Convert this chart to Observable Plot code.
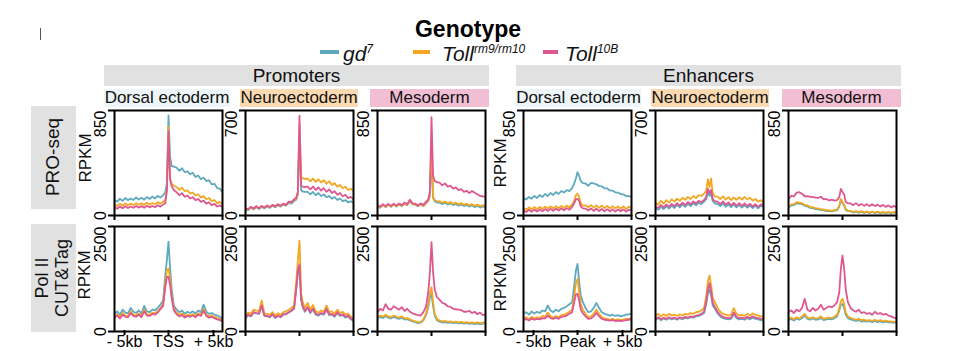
<!DOCTYPE html>
<html><head><meta charset="utf-8">
<script src="https://cdn.jsdelivr.net/npm/d3@7"></script>
<script src="https://cdn.jsdelivr.net/npm/@observablehq/plot@0.6"></script>
<style>
body{margin:0;background:#fff;font-family:"Liberation Sans",Arial,sans-serif;color:#111;}
#root{position:relative;width:962px;height:351px;overflow:hidden;background:#fff;}
.box{position:absolute;display:flex;align-items:center;justify-content:center;white-space:nowrap;}
.rot{position:absolute;transform:translate(-50%,-50%) rotate(-90deg);white-space:nowrap;text-align:center;line-height:1.1;}
.abs{position:absolute;white-space:nowrap;}
svg{position:absolute;}
</style></head>
<body><div id="root"></div>
<script>
// ---------- data ----------
const xs = [-5,-4.75,-4.5,-4.25,-4,-3.75,-3.5,-3.25,-3,-2.75,-2.5,-2.25,-2,-1.75,-1.5,-1.25,-1,-0.75,
  -0.5,-0.3,-0.15,0,0.15,0.3,0.5,
  0.75,1,1.25,1.5,1.75,2,2.25,2.5,2.75,3,3.25,3.5,3.75,4,4.25,4.5,4.75,5];
const genotypes = ["gd7","Toll rm9/rm10","Toll10B"];
const genotypeColors = ["#5ea9bd","#f2a722","#de5790"];
const rowLabels = ["PRO-seq","Pol II CUT&Tag"];
const groups = ["Promoters","Enhancers"];
const tissues = ["Dorsal ectoderm","Neuroectoderm","Mesoderm"];
const xTickLabelsPromoters = ["- 5kb","TSS","+ 5kb"];
const xTickLabelsEnhancers = ["- 5kb","Peak","+ 5kb"];
const yMaxPro = [850,700,850,850,700,850];
const yMaxCut = [2500,2500,2500,2500,2500,2500];

// PRO-seq, promoters
const pro_prom_DE_gd7 = [125,112,136,118,141,124,138,126,146,130,143,128,149,134,153,138,158,145, 165,185,260,810,470,400,395, 388,362,383,352,358,334,346,312,324,294,307,279,286,252,257,222,218,188];
const pro_prom_DE_rm  = [90,78,95,81,98,83,96,85,100,87,99,86,103,89,101,91,108,96, 112,125,210,720,300,255,240, 231,208,225,198,203,180,186,162,172,146,157,132,142,117,124,100,108,94];
const pro_prom_DE_10b = [68,55,73,59,75,61,73,63,77,64,76,63,79,66,77,67,83,72, 88,100,200,680,290,235,205, 188,164,181,152,161,138,148,124,134,110,121,96,107,84,94,73,82,68];
const pro_prom_NE_gd7 = [42,36,52,41,56,43,58,47,61,51,65,55,69,59,73,65,84,80, 96,105,140,560,170,160,158, 158,141,157,135,150,130,140,122,131,112,123,104,113,96,103,88,95,84];
const pro_prom_NE_rm  = [46,40,56,45,60,47,62,51,65,55,69,59,73,63,77,69,90,88, 104,112,150,600,255,248,245, 246,228,247,224,242,220,236,212,228,204,216,192,204,182,192,170,178,163];
const pro_prom_NE_10b = [48,42,58,47,62,49,64,53,67,57,71,61,75,65,79,71,92,90, 108,118,160,665,200,192,190, 192,174,193,170,188,166,182,158,174,150,162,138,150,128,138,116,124,108];
const pro_prom_ME_gd7 = [74,64,84,68,86,70,88,72,90,76,96,84,118,90,88,74,90,76, 100,115,160,500,140,115,105, 106,92,104,88,99,84,94,80,90,76,86,72,82,68,78,64,74,66];
const pro_prom_ME_rm  = [76,66,86,70,88,72,90,74,92,78,98,86,121,92,90,76,92,78, 104,120,170,550,150,125,115, 116,102,114,98,109,94,104,90,100,86,96,82,92,78,88,74,84,76];
const pro_prom_ME_10b = [82,72,92,76,94,78,96,80,98,84,104,92,128,98,96,82,98,86, 112,130,190,797,320,280,270, 266,244,260,234,242,218,228,206,214,192,200,181,199,184,172,158,156,148];
// PRO-seq, enhancers
const pro_enh_DE_gd7 = [138,130,150,136,158,142,166,150,174,158,182,166,190,174,198,186,206,198, 222,260,300,351,320,280,262, 259,241,264,260,252,238,236,220,219,203,201,188,186,173,171,158,156,150];
const pro_enh_DE_rm  = [58,48,66,50,68,52,70,54,72,56,74,58,76,60,78,62,80,66, 90,120,165,176,150,100,80, 82,66,84,64,82,62,80,60,78,58,76,58,74,56,74,54,72,60];
const pro_enh_DE_10b = [38,28,46,30,48,32,50,34,52,36,54,38,56,40,58,42,60,46, 70,100,130,135,120,75,58, 56,40,58,38,56,36,54,34,52,34,52,32,50,34,50,32,48,40];
const pro_enh_NE_gd7 = [48,38,58,42,62,46,66,50,70,54,74,58,78,62,82,68,86,76, 92,110,160,130,150,95,80, 78,62,80,58,74,56,72,54,70,52,68,52,66,50,66,48,64,58];
const pro_enh_NE_rm  = [84,72,98,80,102,86,108,92,112,98,118,104,124,110,130,116,136,130, 148,165,240,190,245,150,128, 126,110,128,106,122,102,120,104,122,106,124,108,118,100,110,92,102,89];
const pro_enh_NE_10b = [60,50,70,54,74,58,78,62,82,66,86,70,90,74,94,80,98,90, 104,125,178,150,170,110,95, 92,76,94,72,88,68,84,66,82,64,80,62,78,60,76,58,74,67];
const pro_enh_ME_gd7 = [65,80,84,99,97,92,78,74,62,60,51,50,44,44,36,38,33,39, 42,72,125,100,80,45,35, 34,24,32,22,31,20,29,19,28,18,27,17,26,18,26,17,25,23];
const pro_enh_ME_rm  = [73,88,92,108,104,100,86,82,70,68,58,57,50,50,42,44,38,44, 48,80,135,110,90,50,40, 38,28,36,26,35,24,33,23,32,22,31,21,30,22,30,21,29,27];
const pro_enh_ME_10b = [135,158,154,186,189,176,156,156,150,150,144,142,152,130,134,122,128,121, 125,150,216,190,170,110,100, 98,84,100,80,94,78,92,76,90,76,88,72,86,70,82,66,78,67];
// Pol II CUT&Tag, promoters
const cut_prom_DE_gd7 = [421,480,400,520,450,430,560,470,440,500,430,610,480,460,520,500,560,640, 738,1333,1700,2142,1500,1000,619, 520,460,500,420,470,440,480,430,500,460,640,470,420,440,405,380,350,302];
const cut_prom_DE_rm  = [360,410,340,440,380,370,480,400,380,430,370,520,410,400,450,430,480,560, 650,1150,1450,1500,1250,850,540, 450,400,430,360,400,380,410,370,430,400,540,400,360,380,350,320,300,260];
const cut_prom_DE_10b = [330,380,310,400,350,340,440,370,350,400,340,480,380,370,420,400,450,530, 610,1050,1300,1300,1100,780,500, 410,360,390,330,370,350,380,340,400,370,500,370,330,350,320,290,270,240];
const cut_prom_NE_gd7 = [320,390,360,450,430,420,600,370,360,340,400,320,370,340,400,410,450,490, 540,1000,1400,1500,750,580,470, 560,440,530,400,380,420,400,520,390,400,350,440,370,390,330,360,290,250];
const cut_prom_NE_rm  = [381,450,420,520,500,480,740,430,420,400,460,380,430,400,460,480,520,560, 620,1200,1700,2166,900,698,560, 680,520,630,480,450,500,470,620,460,480,420,520,440,470,400,430,350,302];
const cut_prom_NE_10b = [330,400,370,460,440,430,620,380,370,350,410,330,380,350,410,420,460,500, 560,1050,1450,1600,780,600,490, 580,460,550,420,400,440,420,540,410,420,370,460,390,410,350,380,310,270];
const cut_prom_ME_gd7 = [310,350,320,370,330,310,350,320,300,330,285,295,265,240,220,200,210,265, 390,580,800,900,600,370,270, 235,215,225,205,215,198,210,192,205,188,200,182,195,178,190,178,186,200];
const cut_prom_ME_rm  = [341,380,350,400,360,340,380,350,330,360,310,320,290,260,240,222,230,290, 430,650,900,1055,700,420,300, 260,240,250,230,240,220,235,215,230,210,225,205,220,200,215,200,210,222];
const cut_prom_ME_10b = [460,540,500,650,540,520,600,560,520,580,490,540,470,430,410,390,380,460, 600,935,1400,2126,1400,1000,820, 760,680,660,600,590,540,530,520,510,470,470,490,440,470,410,450,390,410];
// Pol II CUT&Tag, enhancers
const cut_enh_DE_gd7 = [421,460,400,480,430,470,440,500,480,619,500,460,520,480,540,560,600,650, 698,1100,1450,1611,1200,857,700, 560,460,480,560,680,560,460,420,400,380,400,370,390,360,380,400,410,420];
const cut_enh_DE_rm  = [300,340,290,350,310,340,320,370,350,450,360,330,370,340,390,400,430,470, 520,850,1150,1250,950,650,520, 420,340,360,420,520,420,340,310,300,280,300,270,290,270,280,300,300,310];
const cut_enh_DE_10b = [270,300,260,310,280,300,290,320,310,380,320,300,330,300,350,360,380,420, 460,700,880,900,750,520,430, 360,300,310,360,440,360,300,280,270,260,270,250,260,250,260,270,280,290];
const cut_enh_NE_gd7 = [280,320,270,310,280,320,290,310,280,320,290,330,310,340,330,360,370,400, 440,660,900,1000,850,620,540, 430,360,320,300,290,300,410,320,290,300,280,320,290,330,300,290,270,260];
const cut_enh_NE_rm  = [381,420,360,410,370,420,380,400,370,410,380,420,400,440,420,460,470,500, 560,850,1200,1333,1100,800,698, 560,470,420,400,380,400,555,420,380,400,370,420,380,430,400,380,360,340];
const cut_enh_NE_10b = [300,340,290,330,300,340,310,330,300,340,310,350,330,360,350,380,390,420, 470,720,1000,1150,950,680,580, 470,390,350,330,320,330,450,350,320,330,310,350,320,360,330,320,300,290];
const cut_enh_ME_gd7 = [270,300,260,310,280,320,380,300,280,310,280,290,320,270,290,300,290,320, 360,500,640,650,560,400,320, 290,270,250,270,240,250,235,245,225,250,225,240,215,235,215,215,205,220];
const cut_enh_ME_rm  = [302,330,290,340,310,360,420,330,310,340,310,320,360,300,320,330,320,350, 400,550,720,778,650,450,360, 320,300,280,300,270,280,260,270,250,280,250,270,240,260,240,240,230,240];
const cut_enh_ME_10b = [460,500,440,520,480,560,778,520,480,560,500,540,640,520,560,600,580,620, 700,935,1500,1809,1500,1000,698, 560,500,470,520,440,460,420,440,400,470,420,440,400,420,380,360,330,302];

const rows = [
  [[pro_prom_DE_gd7,pro_prom_DE_rm,pro_prom_DE_10b],[pro_prom_NE_gd7,pro_prom_NE_rm,pro_prom_NE_10b],[pro_prom_ME_gd7,pro_prom_ME_rm,pro_prom_ME_10b],
   [pro_enh_DE_gd7,pro_enh_DE_rm,pro_enh_DE_10b],[pro_enh_NE_gd7,pro_enh_NE_rm,pro_enh_NE_10b],[pro_enh_ME_gd7,pro_enh_ME_rm,pro_enh_ME_10b]],
  [[cut_prom_DE_gd7,cut_prom_DE_rm,cut_prom_DE_10b],[cut_prom_NE_gd7,cut_prom_NE_rm,cut_prom_NE_10b],[cut_prom_ME_gd7,cut_prom_ME_rm,cut_prom_ME_10b],
   [cut_enh_DE_gd7,cut_enh_DE_rm,cut_enh_DE_10b],[cut_enh_NE_gd7,cut_enh_NE_rm,cut_enh_NE_10b],[cut_enh_ME_gd7,cut_enh_ME_rm,cut_enh_ME_10b]]
];
const yMax = [yMaxPro, yMaxCut];

// ---------- layout ----------
const root = document.getElementById("root");
const PL = [114,245,377,523,655,788];
const PT = [110,226];
const PW = 108, PH = 105;
const ML = 32, MR = 18, MT = 4, MB = 19;
const FONT = "Liberation Sans, Arial, sans-serif";

function add(html, cls, css) {
  const d = document.createElement("div");
  d.className = cls; d.innerHTML = html;
  Object.assign(d.style, css);
  root.appendChild(d);
  return d;
}

function panel(series, ymax, xLabels) {
  const data = [];
  series.forEach((vals, k) => vals.forEach((v, i) => data.push({x: xs[i], y: v, g: genotypes[k]})));
  const marks = [
    Plot.line(data, {x: "x", y: "y", z: "g", stroke: "g", strokeWidth: 1.8, clip: true}),
    Plot.frame({stroke: "#000", strokeWidth: 2}),
    Plot.axisY({ticks: [ymax], tickRotate: -90, textAnchor: "end", tickSize: 6, strokeWidth: 2, label: null,
      fontSize: "16px", fontFamily: FONT, tickFormat: d => String(d)}),
    Plot.axisY({ticks: [0], tickRotate: -90, tickSize: 6, strokeWidth: 2, label: null,
      fontSize: "16px", fontFamily: FONT, tickFormat: d => String(d)})
  ];
  if (xLabels) {
    const dxs = [10, 0, -9];
    [-5, 0, 5].forEach((t, j) => marks.push(
      Plot.axisX({ticks: [t], tickSize: 5, tickPadding: 0, strokeWidth: 2, label: null, fontSize: "16px", fontFamily: FONT,
        dx: dxs[j], dy: -1, tickFormat: () => xLabels[j]})));
  } else {
    marks.push(Plot.axisX({ticks: [-5, 0, 5], tickSize: 5, strokeWidth: 2, label: null, tickFormat: () => ""}));
  }
  return Plot.plot({
    width: ML + PW + MR, height: MT + PH + MB,
    marginLeft: ML, marginRight: MR, marginTop: MT, marginBottom: MB,
    style: {background: "transparent", overflow: "visible", fontFamily: FONT, fontSize: "16px", color: "#000"},
    x: {domain: [-5, 5]},
    y: {domain: [0, ymax]},
    color: {domain: genotypes, range: genotypeColors},
    marks
  });
}

rows.forEach((row, r) => row.forEach((series, c) => {
  let xl = null;
  if (r === 1 && c === 0) xl = xTickLabelsPromoters;
  if (r === 1 && c === 3) xl = xTickLabelsEnhancers;
  const svg = panel(series, yMax[r][c], xl);
  svg.style.left = (PL[c] - ML) + "px";
  svg.style.top = (PT[r] - MT) + "px";
  root.appendChild(svg);
}));

// strips
const stripGray = "#e1e1e1";
add(groups[0], "box", {left: "104px", top: "65px", width: "385px", height: "21px", background: stripGray, fontSize: "19px"});
add(groups[1], "box", {left: "516px", top: "65px", width: "385px", height: "21px", background: stripGray, fontSize: "19px"});
const tissueBg = ["#eef5f8", "#fbdab2", "#f1bed4"];
const subPos = [[104,126],[240,118],[370,119],[516,125],[651,118],[782,119]];
subPos.forEach(([l, w], i) => add(tissues[i % 3], "box",
  {left: l + "px", top: "89px", width: w + "px", height: "18px", background: tissueBg[i % 3], fontSize: "17px"}));

// row labels
add("", "box", {left: "31px", top: "106px", width: "45px", height: "103px", background: stripGray});
add(rowLabels[0], "rot", {left: "53px", top: "157px", fontSize: "19px"});
add("", "box", {left: "31px", top: "224px", width: "45px", height: "108px", background: stripGray});
add("Pol II<br>CUT&amp;Tag", "rot", {left: "53px", top: "278px", fontSize: "18px"});

// RPKM labels
[[86,158],[85,275],[501,163],[501,287]].forEach(([x, y]) =>
  add("RPKM", "rot", {left: x + "px", top: y + "px", fontSize: "17px"}));

// legend
add("Genotype", "abs", {left: "468px", top: "16px", transform: "translateX(-50%)", fontSize: "23px", fontWeight: "bold", color: "#000"});
const legItems = [
  {sw: 320, w: 19, tx: 343, html: "<i>gd<sup>7</sup></i>"},
  {sw: 413, w: 17, tx: 442, html: "<i>Toll<sup>rm9/rm10</sup></i>"},
  {sw: 543, w: 15, tx: 565, html: "<i>Toll<sup>10B</sup></i>"}
];
legItems.forEach((it, k) => {
  add("", "abs", {left: it.sw + "px", top: "50px", width: it.w + "px", height: "4px", background: genotypeColors[k]});
  add(it.html, "abs", {left: it.tx + "px", top: "38px", fontSize: "21px", lineHeight: "22px", color: "#111"});
});
document.querySelectorAll("sup").forEach(s => { s.style.fontSize = "12px"; s.style.verticalAlign = "8px"; });

// small mark at top-left
add("", "abs", {left: "40px", top: "28px", width: "1px", height: "12px", background: "#555"});
</script>
</body></html>
